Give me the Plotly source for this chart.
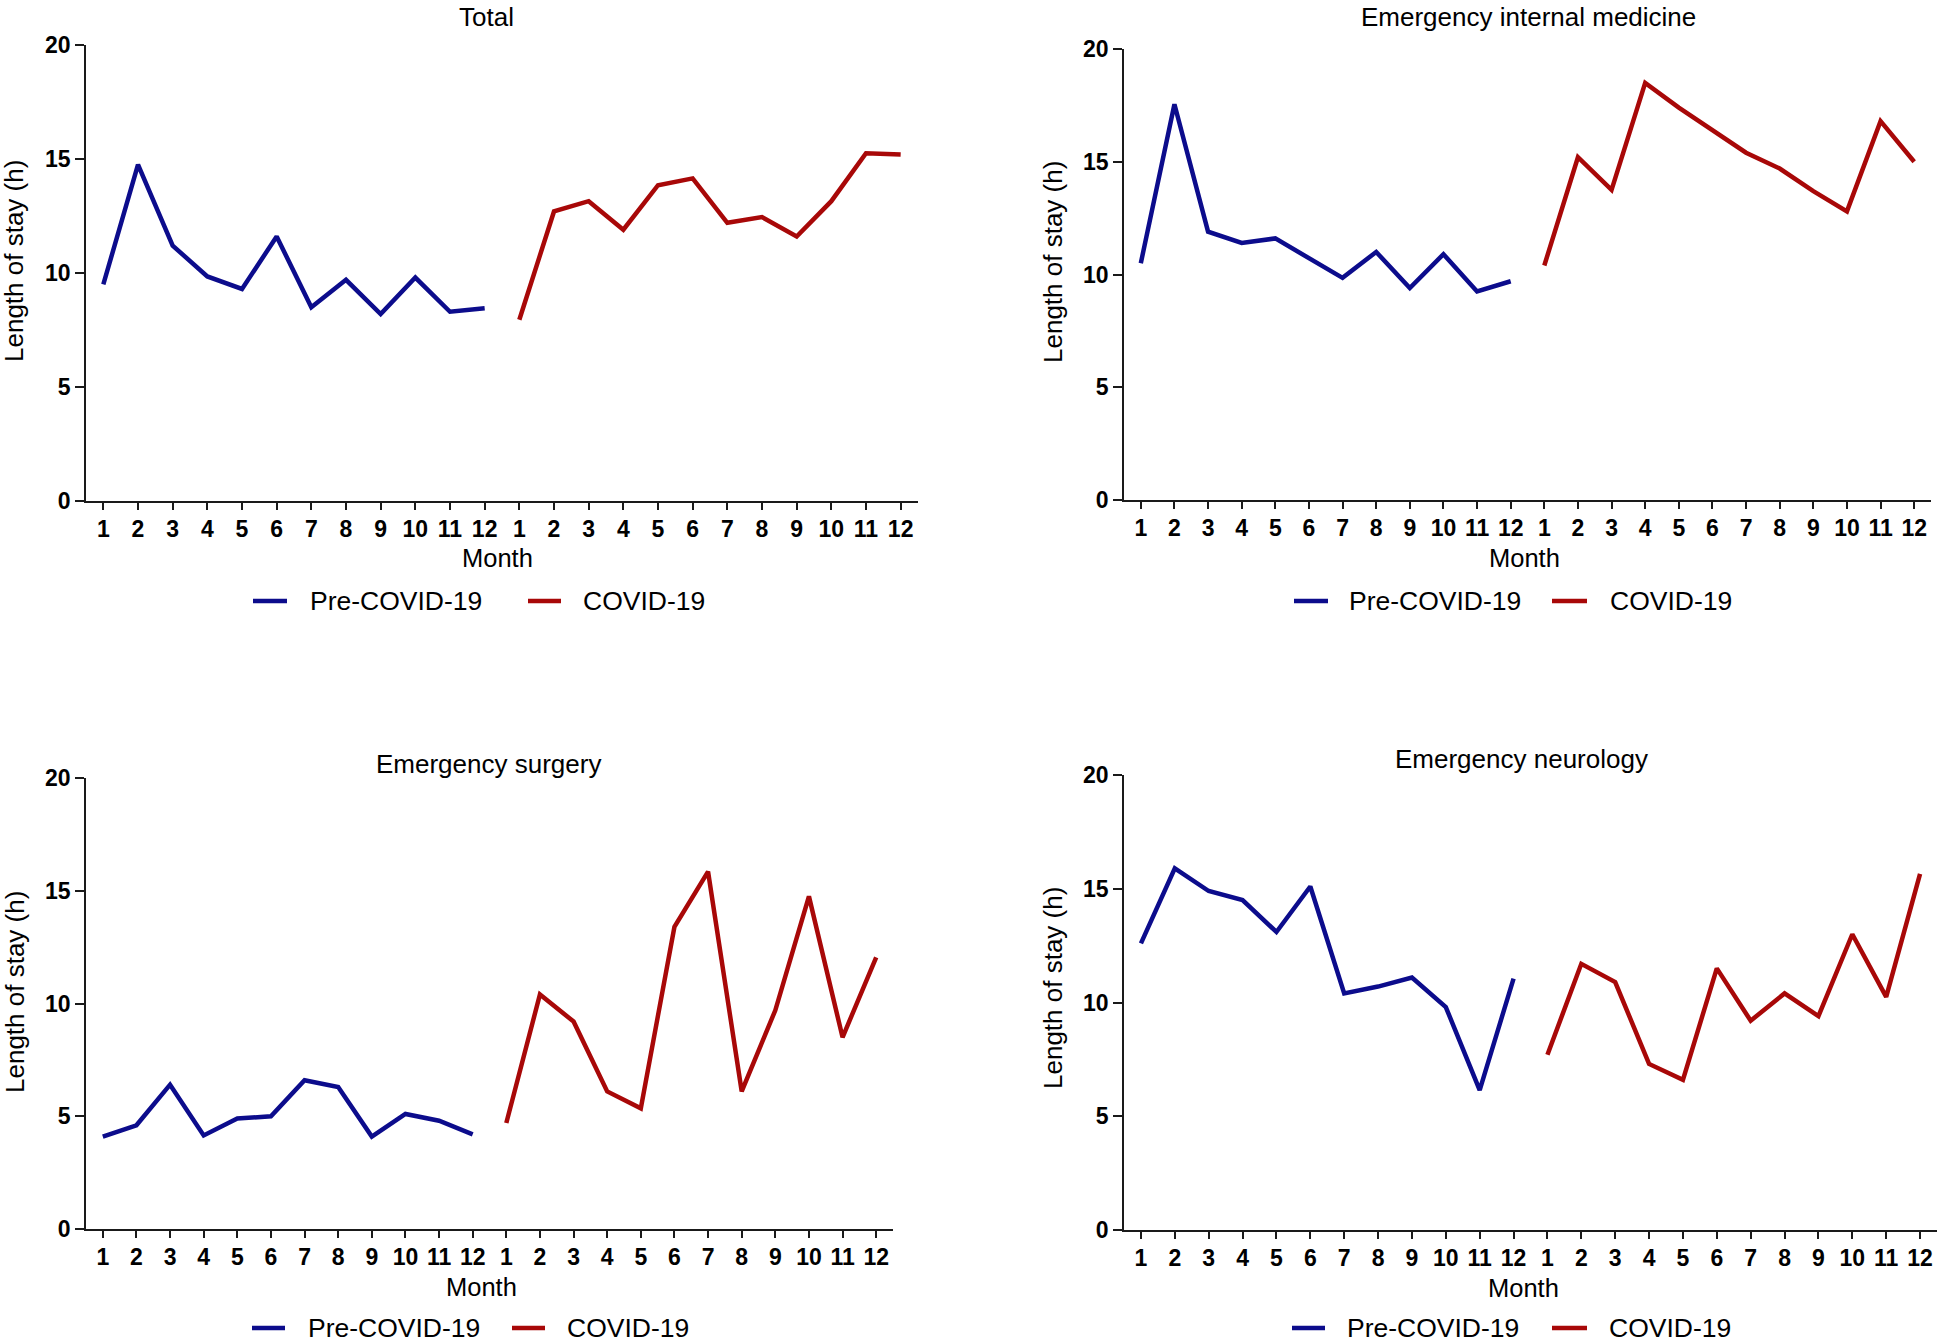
import plotly.graph_objects as go

# ---------------- data ----------------
month_labels = [str(m) for m in range(1, 13)]
series_names = ["Pre-COVID-19", "COVID-19"]
panel_titles = ["Total", "Emergency internal medicine", "Emergency surgery", "Emergency neurology"]
y_ticks = [0, 5, 10, 15, 20]

total_pre = [9.5, 14.75, 11.2, 9.85, 9.3, 11.6, 8.5, 9.7, 8.2, 9.8, 8.3, 8.45]
total_covid = [7.95, 12.7, 13.15, 11.9, 13.85, 14.15, 12.2, 12.45, 11.6, 13.15, 15.25, 15.2]

eim_pre = [10.5, 17.55, 11.9, 11.4, 11.6, 10.75, 9.85, 11.0, 9.4, 10.9, 9.25, 9.7]
eim_covid = [10.4, 15.2, 13.75, 18.5, 17.4, 16.4, 15.4, 14.7, 13.7, 12.8, 16.8, 15.0]

surg_pre = [4.1, 4.6, 6.4, 4.15, 4.9, 5.0, 6.6, 6.3, 4.1, 5.1, 4.8, 4.2]
surg_covid = [4.7, 10.4, 9.2, 6.1, 5.35, 13.4, 15.85, 6.1, 9.7, 14.75, 8.5, 12.05]

neuro_pre = [12.6, 15.9, 14.9, 14.5, 13.1, 15.1, 10.4, 10.7, 11.1, 9.8, 6.15, 11.05]
neuro_covid = [7.7, 11.7, 10.9, 7.3, 6.6, 11.5, 9.2, 10.4, 9.4, 13.0, 10.25, 15.65]

panel_data = [
    (total_pre, total_covid),
    (eim_pre, eim_covid),
    (surg_pre, surg_covid),
    (neuro_pre, neuro_covid),
]

# ---------------- style / layout ----------------
W, H = 1944, 1342
FONT = "Liberation Sans, Arial, sans-serif"
BLUE = "#0c0c8c"
RED = "#a80808"
AXIS_COLOR = "#1a1a1a"

# pixel geometry of each panel: x0, x1 (axis), y_top, y_bottom
# title: (x, y, yanchor)
panels = [
    dict(x0=86, x1=918, yt=45, yb=501, title=(487, 0, "top"), month=(497, 558),
         ylab=(14, 261), leg_y=601, leg=(253, 287, 308, 528, 561, 581)),
    dict(x0=1124, x1=1931, yt=49, yb=500, title=(1528, 0, "top"), month=(1524, 558),
         ylab=(1053, 262), leg_y=601, leg=(1294, 1328, 1347, 1552, 1587, 1608)),
    dict(x0=86, x1=893, yt=778, yb=1229, title=(488, 764, "middle"), month=(481, 1287),
         ylab=(15, 992), leg_y=1328, leg=(252, 285, 306, 512, 545, 565)),
    dict(x0=1124, x1=1937, yt=775, yb=1230, title=(1521, 759, "middle"), month=(1523, 1288),
         ylab=(1053, 988), leg_y=1328, leg=(1292, 1325, 1345, 1552, 1587, 1607)),
]


def px(x):
    return x / W


def py(y):
    return 1 - y / H


fig = go.Figure()
layout = dict(
    width=W, height=H,
    margin=dict(l=0, r=0, t=0, b=0, autoexpand=False),
    paper_bgcolor="white", plot_bgcolor="white",
    showlegend=False,
    font=dict(family=FONT, color="black"),
)
annotations = []
shapes = []

xpos = list(range(24))
ticktext = month_labels + month_labels

for i, (p, (pre, cov)) in enumerate(zip(panels, panel_data)):
    n = "" if i == 0 else str(i + 1)
    xa, ya = "x" + n, "y" + n
    fig.add_trace(go.Scatter(x=xpos[:12], y=pre, mode="lines", name=series_names[0],
                             line=dict(color=BLUE, width=4.5), xaxis=xa, yaxis=ya))
    fig.add_trace(go.Scatter(x=xpos[12:], y=cov, mode="lines", name=series_names[1],
                             line=dict(color=RED, width=4.5), xaxis=xa, yaxis=ya))
    layout["xaxis" + n] = dict(
        domain=[px(p["x0"]), px(p["x1"])], anchor=ya, range=[-0.5, 23.5],
        tickmode="array", tickvals=xpos, ticktext=ticktext,
        ticks="outside", ticklen=7, tickwidth=1.5, tickcolor=AXIS_COLOR,
        showline=True, linecolor=AXIS_COLOR, linewidth=1.5,
        showgrid=False, zeroline=False, fixedrange=True,
        tickfont=dict(family=FONT, size=23, weight="bold", color="black"),
    )
    layout["yaxis" + n] = dict(
        domain=[py(p["yb"]), py(p["yt"])], anchor=xa, range=[0, 20],
        tickmode="array", tickvals=y_ticks,
        ticks="outside", ticklen=9, tickwidth=1.5, tickcolor=AXIS_COLOR,
        showline=True, linecolor=AXIS_COLOR, linewidth=1.5,
        showgrid=False, zeroline=False, fixedrange=True,
        tickfont=dict(family=FONT, size=23, weight="bold", color="black"),
    )
    # titles
    tx, ty, tanchor = p["title"]
    annotations.append(dict(text=panel_titles[i], xref="paper", yref="paper",
                            x=px(tx), y=py(ty),
                            xanchor="center", yanchor=tanchor, showarrow=False,
                            font=dict(family=FONT, size=26, color="black")))
    annotations.append(dict(text="Month", xref="paper", yref="paper",
                            x=px(p["month"][0]), y=py(p["month"][1]),
                            xanchor="center", yanchor="middle", showarrow=False,
                            font=dict(family=FONT, size=25.5, color="black")))
    annotations.append(dict(text="Length of stay (h)", xref="paper", yref="paper",
                            x=px(p["ylab"][0]), y=py(p["ylab"][1]), textangle=-90,
                            xanchor="center", yanchor="middle", showarrow=False,
                            font=dict(family=FONT, size=26, color="black")))
    # legend
    bl0, bl1, bt, rl0, rl1, rt = p["leg"]
    ly = p["leg_y"]
    for (l0, l1, lx, col, name) in [(bl0, bl1, bt, BLUE, series_names[0]),
                                    (rl0, rl1, rt, RED, series_names[1])]:
        shapes.append(dict(type="line", xref="paper", yref="paper",
                           x0=px(l0), x1=px(l1), y0=py(ly), y1=py(ly),
                           line=dict(color=col, width=4.5)))
        annotations.append(dict(text=name, xref="paper", yref="paper",
                                x=px(lx), y=py(ly), xanchor="left", yanchor="middle",
                                showarrow=False,
                                font=dict(family=FONT, size=26.5, color="black")))

layout["annotations"] = annotations
layout["shapes"] = shapes
fig.update_layout(**layout)
fig.write_html(
    "out.html",
    config={"displayModeBar": False},
    post_script="document.body.style.margin='0';document.body.style.overflow='hidden';",
)
